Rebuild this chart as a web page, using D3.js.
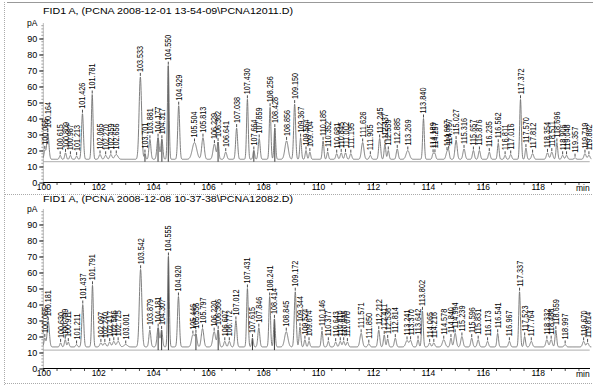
<!DOCTYPE html>
<html><head><meta charset="utf-8">
<script src="https://cdn.jsdelivr.net/npm/d3@7"></script>
<style>
html,body{margin:0;padding:0;background:#fff;}
svg{display:block;}
text{font-family:"Liberation Sans Narrow","Arial Narrow","Liberation Sans",Arial,sans-serif;fill:#000;}
</style></head>
<body><svg id="c" width="593" height="385"></svg>
<script>
// ---- data ----
const titles = ["FID1 A,  (PCNA 2008-12-01 13-54-09\\PCNA12011.D)", "FID1 A,  (PCNA 2008-12-08 10-37-38\\PCNA12082.D)"];
const yTicks = [0,10,20,30,40,50,60,70,80,90];
const xTicks = [100,102,104,106,108,110,112,114,116,118];
const baseLevel = [14.5, 13.5];     // trace floor (pA)
const baseLine = [13, 11.5];        // integration baseline (pA)

const rt1 = [100.055,100.164,100.615,100.809,100.987,101.213,101.426,101.781,102.065,102.270,102.459,102.656,103.533,103.701,103.881,104.177,104.317,104.550,104.929,105.504,105.813,106.229,106.362,106.641,107.038,107.430,107.664,107.859,108.256,108.428,108.856,109.150,109.367,109.564,109.704,110.185,110.352,110.681,110.845,111.002,111.195,111.626,111.905,112.245,112.437,112.559,112.885,113.269,113.840,114.189,114.257,114.697,114.757,115.027,115.316,115.657,115.876,116.235,116.562,116.811,117.016,117.372,117.570,117.812,118.354,118.511,118.696,118.906,119.048,119.357,119.719,119.862];
const h1 = [20,31,17,18.5,17,16.5,43,55,17.5,17,17.5,17.5,66,18,27,28,27,73,48,25,28,24,25,19,34,52,20,27.5,47,34,26,49,28,20,19,26,19,18,18.5,18.5,18,25,17,27.5,24,20,21,20,40,18,18,19,19,26.5,21,20,20,19,24.5,17,17.5,52,21.5,18,18.5,19,25,17,17,15.5,18,17];
const w1 = [0.03,0.04,0.03,0.03,0.03,0.03,0.035,0.03,0.04,0.04,0.04,0.06,0.045,0.025,0.035,0.04,0.035,0.03,0.035,0.08,0.045,0.05,0.03,0.04,0.035,0.03,0.03,0.035,0.03,0.03,0.06,0.035,0.03,0.03,0.03,0.03,0.03,0.035,0.035,0.035,0.035,0.045,0.035,0.035,0.03,0.03,0.035,0.06,0.03,0.03,0.03,0.04,0.03,0.04,0.04,0.035,0.035,0.035,0.03,0.03,0.035,0.03,0.03,0.04,0.04,0.04,0.03,0.035,0.035,0.03,0.04,0.04];
const drops1 = [103.701,104.177,104.317,104.550,106.362,107.664,108.428];

const rt2 = [100.055,100.181,100.630,100.799,100.911,101.211,101.437,101.791,102.097,102.240,102.417,102.566,102.725,103.001,103.542,103.879,104.181,104.307,104.555,104.920,105.446,105.556,105.797,106.220,106.366,106.607,106.772,107.012,107.431,107.615,107.846,108.241,108.414,108.845,109.172,109.344,109.524,109.674,110.146,110.377,110.643,110.810,110.935,111.070,111.571,111.850,112.212,112.411,112.536,112.814,113.241,113.370,113.642,113.802,114.065,114.216,114.578,114.840,114.994,115.239,115.596,115.831,116.173,116.541,116.967,117.337,117.523,117.764,118.332,118.488,118.659,118.997,119.670,119.814];
const h2 = [19,29.5,16,18,16.5,15,40,52,16,16,16.5,17,17,15,62,24,25.5,24,70,45,21,21,25,23,24,17,17,30,50,19,25.5,45,31,23,48,26,18,17,23.5,17,16.5,17,17,16.5,22,15.5,24,21,18.5,19,17.5,17.5,18,36,16,16,18,19,22,20,19,18,17,22,17,48,20,17,18,18,24,15,17,16];
const w2 = [0.03,0.04,0.03,0.03,0.03,0.03,0.035,0.03,0.04,0.04,0.04,0.04,0.05,0.06,0.045,0.035,0.04,0.035,0.03,0.035,0.05,0.04,0.045,0.05,0.035,0.035,0.035,0.035,0.03,0.03,0.035,0.03,0.03,0.06,0.035,0.03,0.03,0.03,0.03,0.03,0.035,0.035,0.035,0.035,0.045,0.035,0.035,0.03,0.03,0.035,0.05,0.04,0.03,0.03,0.035,0.035,0.05,0.03,0.04,0.04,0.035,0.035,0.035,0.03,0.035,0.03,0.03,0.04,0.04,0.04,0.03,0.035,0.04,0.04];
const drops2 = [104.181,104.307,104.555,105.556,106.366,107.615,108.414];

const runs = [
  {rt: rt1, h: h1, w: w1, drops: drops1},
  {rt: rt2, h: h2, w: w2, drops: drops2}
];

// ---- drawing ----
const svg = d3.select("#c");
const fmt = d3.format(".3f");
const panelTop = [0, 186];
const titleY = [13.5, 16];
const axisFont = "Liberation Sans, Arial, sans-serif";

// outer frame
svg.append("line").attr("x1",7).attr("x2",593).attr("y1",2.5).attr("y2",2.5).attr("stroke","#999");
svg.append("line").attr("x1",4.5).attr("x2",4.5).attr("y1",2).attr("y2",385).attr("stroke","#aaa").attr("stroke-dasharray","1,1");
svg.append("line").attr("x1",5).attr("x2",593).attr("y1",194.5).attr("y2",194.5).attr("stroke","#aaa").attr("stroke-dasharray","1,1");
svg.append("line").attr("x1",5).attr("x2",593).attr("y1",383.5).attr("y2",383.5).attr("stroke","#aaa").attr("stroke-dasharray","1,1");

runs.forEach((run, p) => {
  const off = panelTop[p];
  const g = svg.append("g").attr("transform", `translate(0,${off})`);
  const x = d3.scaleLinear().domain([100,120]).range([43.3, 592.7]);
  const y = d3.scaleLinear().domain([0,100]).range([182.5, 22.5]);

  // title
  g.append("text").attr("x",43).attr("y",titleY[p]).attr("font-size",9.2)
    .attr("textLength",250).attr("lengthAdjust","spacingAndGlyphs").text(titles[p]);
  g.append("text").attr("x",27).attr("y",26).attr("font-size",8.5).text("pA");

  // y axis
  const ya = d3.axisLeft(y).tickValues(yTicks).tickSize(4).tickFormat(d3.format("d"));
  const yg = g.append("g").attr("transform","translate(43.3,0)").call(ya);
  yg.select(".domain").attr("stroke","#777").attr("stroke-dasharray","1,1").attr("d","M0,182.5V22.5");
  yg.selectAll("text").attr("font-size",9).attr("font-family",axisFont).attr("x",-6);
  // minor y ticks
  g.append("g").selectAll("line").data(d3.range(0,100,2)).join("line")
    .attr("x1",41.3).attr("x2",43.3).attr("y1",d=>y(d)).attr("y2",d=>y(d)).attr("stroke","#666").attr("stroke-width",0.6);

  // x axis
  const xa = d3.axisBottom(x).tickValues(xTicks).tickSize(3).tickFormat(d3.format("d"));
  const xg = g.append("g").attr("transform",`translate(0,${y(0)})`).call(xa);
  xg.select(".domain").attr("d","M43.3,0H590").attr("stroke","#000");
  xg.selectAll("text").attr("font-size",8.5).attr("font-family",axisFont).attr("y",1.5).attr("dy","0.71em");
  g.append("g").selectAll("line").data(d3.range(100,120,0.5).filter(v=>v%2!==0)).join("line")
    .attr("x1",d=>x(d)).attr("x2",d=>x(d)).attr("y1",y(0)).attr("y2",y(0)+2.5).attr("stroke","#000").attr("stroke-width",0.7);
  g.append("text").attr("x",576).attr("y",y(0)+8.5).attr("font-size",8.5).attr("font-family",axisFont).text("min");

  // baseline line
  g.append("line").attr("x1",x(100)).attr("x2",x(120)-3).attr("y1",y(baseLine[p])).attr("y2",y(baseLine[p])).attr("stroke","#999").attr("stroke-width",0.8);

  // trace built from read peaks
  const step = 0.005;
  const ts = d3.range(100, 119.95 + 1e-9, step);
  const sig = t => {
    let v = baseLevel[p];
    for (let i = 0; i < run.rt.length; i++) {
      const d = (t - run.rt[i]) / run.w[i];
      if (Math.abs(d) < 6) v += (run.h[i] - baseLevel[p]) * Math.exp(-0.5 * d * d);
    }
    return v;
  };

  // drop lines (peak separation)
  g.append("g").selectAll("line").data(run.drops).join("line")
    .attr("x1",d=>x(d)).attr("x2",d=>x(d)).attr("y1",d=>y(sig(d))).attr("y2",y(baseLine[p]))
    .attr("stroke","#222").attr("stroke-width",0.9);

  const line = d3.line().x(d=>x(d[0])).y(d=>y(d[1]));
  g.append("path").datum(ts.map(t=>[t, sig(t)])).attr("d", line)
    .attr("fill","none").attr("stroke","#707070").attr("stroke-width",0.9);

  // peak labels
  const lab = g.append("g");
  run.rt.forEach((r, i) => {
    const px = x(r), py = y(sig(r));
    lab.append("line").attr("x1",px).attr("x2",px).attr("y1",py-1).attr("y2",py-4).attr("stroke","#000").attr("stroke-width",0.7);
    lab.append("text").attr("transform",`translate(${px+3},${py-5}) rotate(-90)`)
      .attr("font-size",8.5).attr("textLength",26).attr("lengthAdjust","spacingAndGlyphs").text(fmt(r));
  });
});
</script></body></html>
